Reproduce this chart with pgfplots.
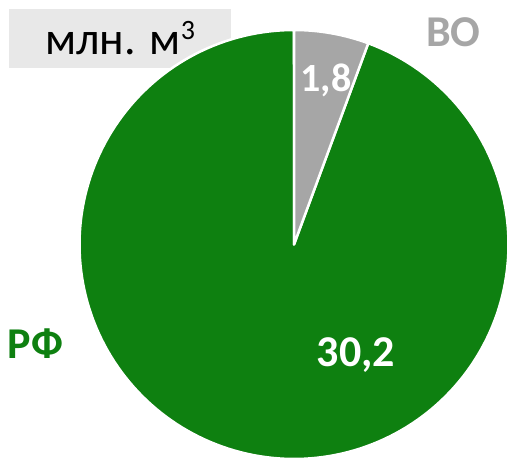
\documentclass[border=0pt]{standalone}
\usepackage{fontspec}
\setmainfont{Carlito}
\usepackage{pgfplots}
\pgfplotsset{compat=1.18}
\definecolor{piegreen}{RGB}{14,128,16}
\definecolor{piegray}{RGB}{166,166,166}
\definecolor{boxgray}{RGB}{232,232,232}
% data (mln m^3)
\def\valA{1.8}  % VO
\def\valB{30.2} % RF
\pgfmathsetmacro\total{\valA+\valB}
\pgfmathsetmacro\angA{90-360*\valA/\total}
\pgfmathsetmacro\angB{\angA-360*\valB/\total}
\def\cx{294}\def\cy{217.5}\def\rr{214.5}
\begin{document}
\begin{tikzpicture}
\begin{axis}[
  width=514pt, height=462pt, scale only axis,
  xmin=0, xmax=514, ymin=0, ymax=462,
  hide axis, clip=false,
]
\path (axis cs:0,0) rectangle (axis cs:514,462);
\fill[boxgray] (axis cs:9,453) rectangle (axis cs:231,394);
\addplot[fill=piegreen, draw=white, line width=2.5pt, line join=round, domain=\angA:\angB, samples=200]
  ({\cx+\rr*cos(x)},{\cy+\rr*sin(x)}) -- (axis cs:\cx,\cy) -- cycle;
\addplot[fill=piegray, draw=white, line width=2.5pt, line join=round, domain=90:\angA, samples=30]
  ({\cx+\rr*cos(x)},{\cy+\rr*sin(x)}) -- (axis cs:\cx,\cy) -- cycle;
\node[anchor=base, inner sep=0pt, font=\fontsize{46}{50}\selectfont] at (axis cs:120,407)
  {млн. м\raisebox{15pt}{\fontsize{28}{30}\selectfont 3}};
\node[anchor=base, inner sep=0pt, text=piegray, font=\fontsize{44}{48}\selectfont\bfseries] at (axis cs:453.5,415) {ВО};
\node[anchor=base, inner sep=0pt, text=piegreen, font=\fontsize{44}{48}\selectfont\bfseries] at (axis cs:35.5,103) {РФ};
\node[anchor=base, inner sep=0pt, text=white, font=\fontsize{40}{44}\selectfont\bfseries] at (axis cs:326,370) {1,8};
\node[anchor=base, inner sep=0pt, text=white, font=\fontsize{44}{48}\selectfont\bfseries] at (axis cs:356,95) {30,2};
\end{axis}
\end{tikzpicture}
\end{document}
